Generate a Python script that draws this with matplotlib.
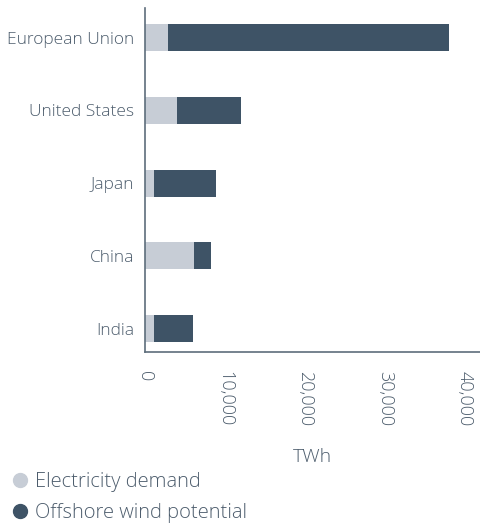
import matplotlib
matplotlib.use("Agg")
import matplotlib.pyplot as plt
from matplotlib.lines import Line2D

countries = ["European Union", "United States", "Japan", "China", "India"]
demand = [2900, 4000, 1100, 6100, 1100]
offshore = [35100, 8000, 7800, 2150, 4900]
xticks = [0, 10000, 20000, 30000, 40000]

light = "#c7cdd6"
dark = "#3e5366"
text_col = "#4d5d6d"

plt.rcParams["font.family"] = ["Open Sans", "DejaVu Sans"]
plt.rcParams["font.weight"] = "light"

fig = plt.figure(figsize=(4.81, 5.23), dpi=100)
ax = fig.add_axes([0.3015, 0.327, 0.697, 0.658])

ypos = list(range(len(countries)))
ax.barh(ypos, demand, height=0.37, color=light)
ax.barh(ypos, offshore, left=demand, height=0.37, color=dark)

ax.set_ylim(4.32, -0.41)
ax.set_xlim(0, 41900)
ax.set_yticks(ypos)
ax.set_yticklabels(countries, fontsize=12.5, color=text_col)
ax.set_xticks(xticks)
ax.set_xticklabels(["{:,}".format(t) for t in xticks], rotation=270,
                   fontsize=13, color=text_col)
ax.tick_params(length=0, pad=14)
ax.tick_params(axis="y", pad=8)

for s in ["top", "right"]:
    ax.spines[s].set_visible(False)
for s in ["left", "bottom"]:
    ax.spines[s].set_color("#5d6d7b")
    ax.spines[s].set_linewidth(1.2)

ax.set_xlabel("TWh", fontsize=14, fontweight="light", color=text_col,
              labelpad=15)

handles = [
    Line2D([], [], marker="o", ls="", markersize=10, color=light),
    Line2D([], [], marker="o", ls="", markersize=10, color=dark),
]
fig.legend(handles, ["Electricity demand", "Offshore wind potential"],
           loc="lower left", bbox_to_anchor=(-0.025, -0.024), frameon=False,
           prop={"size": 14.5, "weight": "light"}, labelcolor=text_col,
           handletextpad=-0.25, labelspacing=0.55, borderaxespad=0.2)

fig.savefig("out.png", dpi=100)
